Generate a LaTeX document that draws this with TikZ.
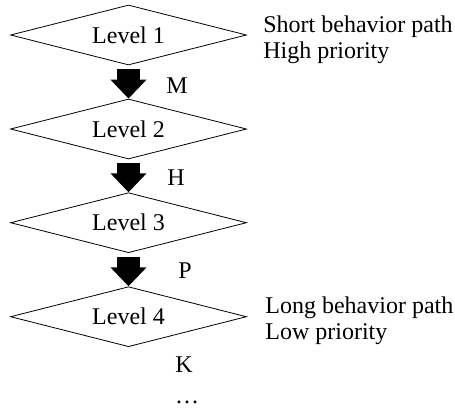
\documentclass[tikz,border=0pt]{standalone}
\usepackage{fontspec}
\setmainfont{Liberation Serif}
\usetikzlibrary{shapes.geometric, arrows.meta, positioning}

\tikzset{
    level/.style={draw, shape=diamond, aspect=4, inner sep=0pt, minimum width=118pt, minimum height=30pt, font=\fontsize{12}{14}\selectfont},
    fatarrow/.style={line width=11.4pt, -{Triangle[width=17.5pt, length=9.5pt]}, shorten <=1.8pt},
    note/.style={inner sep=0pt, anchor=base west, font=\fontsize{12}{14}\selectfont},
    letter/.style={inner sep=0pt, anchor=base, font=\fontsize{12}{14}\selectfont}
}

\begin{document}
\begin{tikzpicture}[x=0.5pt, y=-0.5pt]
    \useasboundingbox (0,0) rectangle (455,408);

    % Levels
    \node[level] (l1) at (128.5,35) {Level 1};
    \node[level] (l2) at (128.5,129) {Level 2};
    \node[level] (l3) at (128.5,222.7) {Level 3};
    \node[level] (l4) at (128.5,316.7) {Level 4};

    % Arrows between levels
    \draw[fatarrow] (l1.south) -- (l2.north);
    \draw[fatarrow] (l2.south) -- (l3.north);
    \draw[fatarrow] (l3.south) -- (l4.north);

    % Letters
    \node[letter] (m) at (177,93) {M};
    \node[letter] (h) at (176,185) {H};
    \node[letter] (p) at (185,278) {P};
    \node[letter] (k) at (184,372) {K};
    \node[letter] (dots) at (187,403) {\ldots};

    % Notes
    \node[note] (short) at (263,32) {Short behavior path};
    \node[note] (high) at ([yshift=-13pt]short.base west) {High priority};
    \node[note] (long) at (265,313) {Long behavior path};
    \node[note] (low) at ([yshift=-13pt]long.base west) {Low priority};
\end{tikzpicture}
\end{document}
